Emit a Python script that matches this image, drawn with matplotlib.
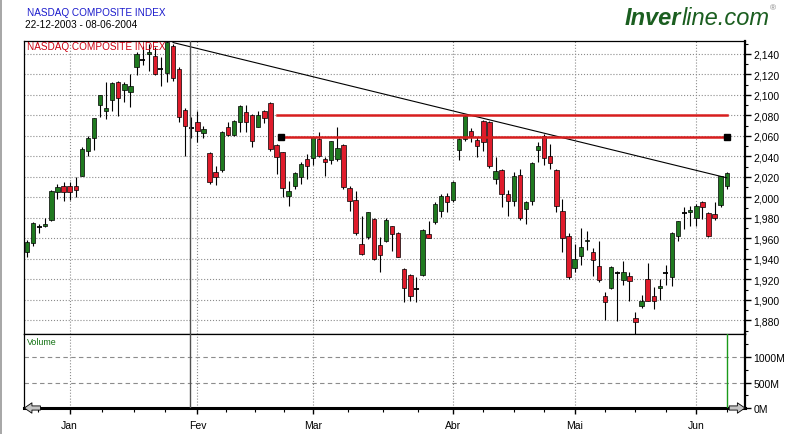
import matplotlib
matplotlib.use('Agg')
import matplotlib.pyplot as plt
from matplotlib.patches import Rectangle

plt.rcParams['font.family'] = ['Liberation Sans', 'DejaVu Sans']

W, H = 799, 435

# NASDAQ composite, daily OHLC 22-12-2003 .. 08-06-2004
opens = [1946.9, 1955.1, 1970.7, 1971.7, 1978.1, 2004.9, 2010.7, 2011.3, 2011.3, 2021.1,
         2045.5, 2057.6, 2090.3, 2083.9, 2094.6, 2112.2, 2105.0, 2102.4, 2126.8, 2134.0,
         2139.5, 2138.1, 2124.8, 2121.3, 2147.3, 2125.2, 2085.5, 2067.6, 2073.2, 2062.4,
         2043.2, 2024.4, 2026.9, 2068.9, 2061.1, 2073.8, 2083.5, 2080.3, 2068.9, 2083.9,
         2092.0, 2051.3, 2043.9, 2001.6, 2011.3, 2019.5, 2037.4, 2038.0, 2056.9, 2037.4,
         2036.4, 2037.4, 2051.3, 2008.8, 1997.4, 1954.4, 1961.0, 1978.8, 1953.5, 1957.1,
         1971.7, 1965.2, 1930.0, 1924.2, 1910.2, 1924.2, 1964.2, 1976.2, 1986.9, 2001.6,
         1997.7, 2046.4, 2056.9, 2064.4, 2055.9, 2074.7, 2073.8, 2017.9, 2026.6, 2003.2,
         1996.1, 2022.0, 1988.6, 1996.7, 2046.4, 2059.5, 2040.6, 2026.6, 1986.9, 1962.5,
         1931.0, 1943.0, 1957.0, 1946.3, 1932.7, 1904.0, 1911.2, 1925.9, 1919.6, 1922.9,
         1881.9, 1893.7, 1920.3, 1903.4, 1911.2, 1925.9, 1922.0, 1961.9, 1984.7, 1986.0,
         1979.5, 1995.1, 1984.7, 1983.7, 1992.8, 2011.3]
highs = [1958.3, 1975.6, 1973.9, 1979.5, 2007.1, 2013.0, 2014.6, 2015.2, 2020.0, 2048.8,
         2060.1, 2077.4, 2099.8, 2112.2, 2112.2, 2113.8, 2112.2, 2120.3, 2141.5, 2148.0,
         2150.0, 2146.3, 2136.5, 2153.0, 2149.6, 2127.4, 2087.0, 2078.0, 2084.5, 2069.9,
         2043.9, 2030.2, 2064.3, 2073.2, 2075.7, 2090.0, 2090.0, 2081.3, 2084.5, 2085.2,
         2093.3, 2052.0, 2044.5, 2016.2, 2025.0, 2034.1, 2042.2, 2060.1, 2064.0, 2039.0,
         2055.2, 2068.3, 2052.0, 2010.7, 2006.4, 1981.5, 1986.0, 1979.5, 1961.0, 1979.8,
         1972.3, 1965.9, 1930.7, 1925.2, 1922.0, 1968.7, 1977.2, 1995.1, 2003.2, 2004.2,
         2015.5, 2057.6, 2080.6, 2067.3, 2058.5, 2075.7, 2074.7, 2039.0, 2027.5, 2007.1,
         2024.4, 2027.6, 1996.7, 2034.0, 2053.7, 2061.8, 2052.0, 2027.6, 1998.3, 1965.2,
         1954.4, 1970.0, 1966.8, 1950.2, 1957.7, 1907.9, 1932.6, 1928.4, 1938.1, 1927.4,
         1888.4, 1904.7, 1935.9, 1912.2, 1920.3, 1934.0, 1965.9, 1977.2, 1990.2, 1991.8,
         1993.5, 1996.7, 1985.7, 1995.1, 2021.1, 2024.4]
lows = [1942.0, 1952.8, 1964.9, 1970.7, 1977.2, 1998.3, 1996.7, 1997.4, 2000.0, 2020.5,
        2040.0, 2046.4, 2078.0, 2076.4, 2084.5, 2079.6, 2093.3, 2087.8, 2119.3, 2129.0,
        2123.0, 2119.3, 2108.8, 2112.2, 2113.8, 2073.2, 2040.6, 2057.6, 2053.7, 2057.6,
        2013.0, 2012.0, 2025.0, 2060.1, 2060.1, 2064.0, 2063.4, 2049.4, 2068.3, 2072.2,
        2045.5, 2022.7, 2000.0, 1991.8, 2008.1, 2013.0, 2017.9, 2031.5, 2039.0, 2020.5,
        2032.5, 2035.7, 2008.1, 1987.0, 1963.2, 1943.7, 1959.7, 1938.9, 1927.4, 1956.1,
        1947.9, 1941.4, 1898.1, 1899.1, 1897.6, 1923.2, 1960.0, 1974.0, 1980.5, 1985.4,
        1995.5, 2036.7, 2055.2, 2053.7, 2039.0, 2045.5, 2029.0, 2013.0, 1990.2, 1982.0,
        1991.2, 1978.1, 1974.0, 1992.5, 2034.1, 2031.8, 2027.6, 1985.4, 1946.3, 1920.3,
        1926.8, 1934.0, 1948.9, 1923.5, 1917.7, 1880.3, 1910.6, 1879.6, 1914.4, 1898.5,
        1866.0, 1891.7, 1898.5, 1891.0, 1900.1, 1914.4, 1913.8, 1957.7, 1969.1, 1972.3,
        1972.3, 1978.8, 1961.0, 1977.9, 1990.8, 2008.1]
closes = [1956.7, 1974.9, 1970.7, 1974.0, 2006.4, 2009.8, 2004.9, 2004.9, 2007.4, 2047.1,
          2057.9, 2077.1, 2099.8, 2087.1, 2111.5, 2097.2, 2110.2, 2108.3, 2139.8, 2134.0,
          2142.1, 2120.2, 2124.8, 2151.2, 2116.1, 2078.0, 2069.3, 2067.6, 2064.4, 2066.6,
          2015.2, 2020.1, 2063.4, 2061.1, 2074.7, 2089.4, 2073.8, 2054.6, 2080.3, 2077.1,
          2047.1, 2039.0, 2008.8, 2005.9, 2023.3, 2032.2, 2030.8, 2058.5, 2040.6, 2034.1,
          2054.6, 2048.1, 2009.8, 1996.7, 1965.2, 1944.7, 1985.4, 1939.8, 1943.7, 1977.9,
          1963.9, 1942.0, 1911.2, 1903.4, 1910.2, 1968.1, 1960.6, 1993.5, 2001.6, 1995.1,
          2014.6, 2056.9, 2079.6, 2060.1, 2050.3, 2053.7, 2030.8, 2025.4, 2003.2, 1996.7,
          2020.5, 1979.5, 1995.7, 2033.4, 2049.7, 2038.0, 2033.2, 1991.2, 1960.0, 1922.0,
          1939.8, 1951.2, 1958.5, 1939.1, 1919.6, 1897.6, 1931.7, 1925.9, 1926.8, 1918.0,
          1878.0, 1898.5, 1899.1, 1899.1, 1913.8, 1925.9, 1964.9, 1976.6, 1984.7, 1987.6,
          1991.2, 1990.2, 1962.0, 1979.5, 2020.5, 2023.7]
volume = [0] * 115 + [1600]   # only the last day has a volume value

months = ['Jan', 'Fev', 'Mar', 'Abr', 'Mai', 'Jun']
month_pos = [7, 28, 47, 70, 90, 110]
price_ticks = list(range(1880, 2141, 20))
vol_ticks = [0, 500, 1000]
vol_labels = ['0M', '500M', '1000M']

trend_x = [24, 115]
trend_y = [2151, 2019]
res_hi = 2080
res_lo = 2059
vline_day = 26.8

GREEN = '#1f7a1f'
RED = '#e01b2b'


def fx(x):
    return x / W


def fy(y):
    return 1 - y / H


fig = plt.figure(figsize=(W / 100, H / 100), dpi=100)
fig.patch.set_facecolor('white')
# window border (left / top)
fig.add_artist(Rectangle((0, 0), fx(2), 1, transform=fig.transFigure, fc='#a8a8a8', ec='none'))
fig.add_artist(Rectangle((0, fy(1)), 1, 1 - fy(1), transform=fig.transFigure, fc='#a8a8a8', ec='none'))

ax = fig.add_axes([fx(24), fy(335), fx(745) - fx(24), fy(42) - fy(335)])
axv = fig.add_axes([fx(24), fy(409), fx(745) - fx(24), fy(335) - fy(409)])

n = len(closes)
for i in range(n):
    o, h, l, c = opens[i], highs[i], lows[i], closes[i]
    ax.vlines(i, l, h, color='black', lw=0.8, zorder=3)
    if abs(c - o) < 0.5:
        ax.hlines(o, i - 0.4, i + 0.4, color='black', lw=1.3, zorder=4)
    else:
        col = GREEN if c > o else RED
        ax.add_patch(Rectangle((i - 0.36, min(o, c)), 0.72, abs(c - o),
                               fc=col, ec='black', lw=0.5, zorder=4))

# drawn lines
ax.plot(trend_x, trend_y, color='black', lw=0.8, zorder=5)
ax.plot([41, 115], [res_hi, res_hi], color='#d81e1e', lw=1.8, zorder=5)
ax.plot([41.8, 115], [res_lo, res_lo], color='#d81e1e', lw=1.8, zorder=5)
ax.plot([41.8, 115], [res_lo, res_lo], ls='none', marker='s', ms=4.5, color='black', zorder=6)
ax.axvline(vline_day, color='#505050', lw=1, zorder=5)
axv.axvline(vline_day, color='#505050', lw=1, zorder=5)

xlim = (-0.5, 118)
ax.set_xlim(xlim)
ax.set_ylim(1866.6, 2152.5)
axv.set_xlim(xlim)
axv.set_ylim(0, 1451)

minor_x = [month_pos[0] - (month_pos[1] - month_pos[0]) / 4]
for a, b in zip(month_pos[:-1], month_pos[1:]):
    minor_x += [a + (b - a) * k / 4 for k in (1, 2, 3)]
minor_x.append(month_pos[-1] + (month_pos[-1] - month_pos[-2]) / 4)

# price panel
ax.set_yticks(price_ticks)
ax.set_yticks(list(range(1870, 2151, 10)), minor=True)
ax.yaxis.tick_right()
ax.set_yticklabels([f'{v:,}' for v in price_ticks])
ax.tick_params(axis='y', which='major', length=4, width=1, labelsize=7.5, pad=2)
ax.tick_params(axis='y', which='minor', length=2, width=0.8)
ax.set_xticks(month_pos)
ax.tick_params(axis='x', length=0, labelbottom=False)
ax.grid(True, ls=':', color='#8c8c8c', lw=0.8)
ax.set_axisbelow(True)
for s in ax.spines.values():
    s.set_color('black')
    s.set_linewidth(0.9)
ax.spines['right'].set_linewidth(1.6)

# volume panel
axv.vlines(range(n), 0, volume, color='#1a9a1a', lw=1, zorder=3)
axv.set_yticks(vol_ticks)
axv.set_yticklabels(vol_labels)
axv.set_yticks([250, 750, 1250], minor=True)
axv.yaxis.tick_right()
axv.tick_params(axis='y', which='major', length=4, width=1, labelsize=7.5, pad=2)
axv.tick_params(axis='y', which='minor', length=2, width=0.8)
axv.set_xticks(month_pos)
axv.set_xticklabels(months)
axv.set_xticks(minor_x, minor=True)
axv.tick_params(axis='x', which='major', length=4, width=1, labelsize=7.5, pad=5)
axv.tick_params(axis='x', which='minor', length=3, width=0.8)
axv.grid(True, axis='x', ls=':', color='#8c8c8c', lw=0.8)
for v in vol_ticks[1:]:
    axv.axhline(v, ls=(0, (4, 3)), color='#8c8c8c', lw=0.8, zorder=1)
for s in axv.spines.values():
    s.set_color('black')
    s.set_linewidth(0.9)
axv.spines['right'].set_linewidth(1.6)
axv.spines['bottom'].set_linewidth(2.2)

# arrows at the ends of the time axis
arrow = dict(arrowstyle='simple,head_length=0.55,head_width=0.75,tail_width=0.3',
             fc='#c4c4c4', ec='black', lw=0.6, shrinkA=0, shrinkB=0)
axv.annotate('', xy=(-0.45, 0), xytext=(2.2, 0), arrowprops=arrow, annotation_clip=False, zorder=6)
axv.annotate('', xy=(118.0, 0), xytext=(115.4, 0), arrowprops=arrow, annotation_clip=False, zorder=6)

# texts
fig.text(fx(27), fy(13), 'NASDAQ COMPOSITE INDEX', color='#1a1acc', fontsize=7.2, va='center')
fig.text(fx(25), fy(25), '22-12-2003 - 08-06-2004', color='black', fontsize=7.2, va='center')
fig.text(fx(27), fy(47), 'NASDAQ COMPOSITE INDEX', color='#cc0010', fontsize=7.2, va='center', zorder=2)
fig.text(fx(27), fy(343), 'Volume', color='#107010', fontsize=6.4, va='center')

renderer = fig.canvas.get_renderer()
t1 = fig.text(fx(625), fy(25), 'Inver', color='#1b5e20', fontsize=17, fontweight='bold',
              fontstyle='italic', va='baseline')
bb = t1.get_window_extent(renderer)
t2 = fig.text(bb.x1 / W, fy(25), 'line.com', color='#1b5e20', fontsize=17,
              fontstyle='italic', va='baseline')
bb2 = t2.get_window_extent(renderer)
fig.text(bb2.x1 / W + 0.001, fy(5), '®', color='#808080', fontsize=6, va='top')

fig.savefig('out.png', dpi=100)
